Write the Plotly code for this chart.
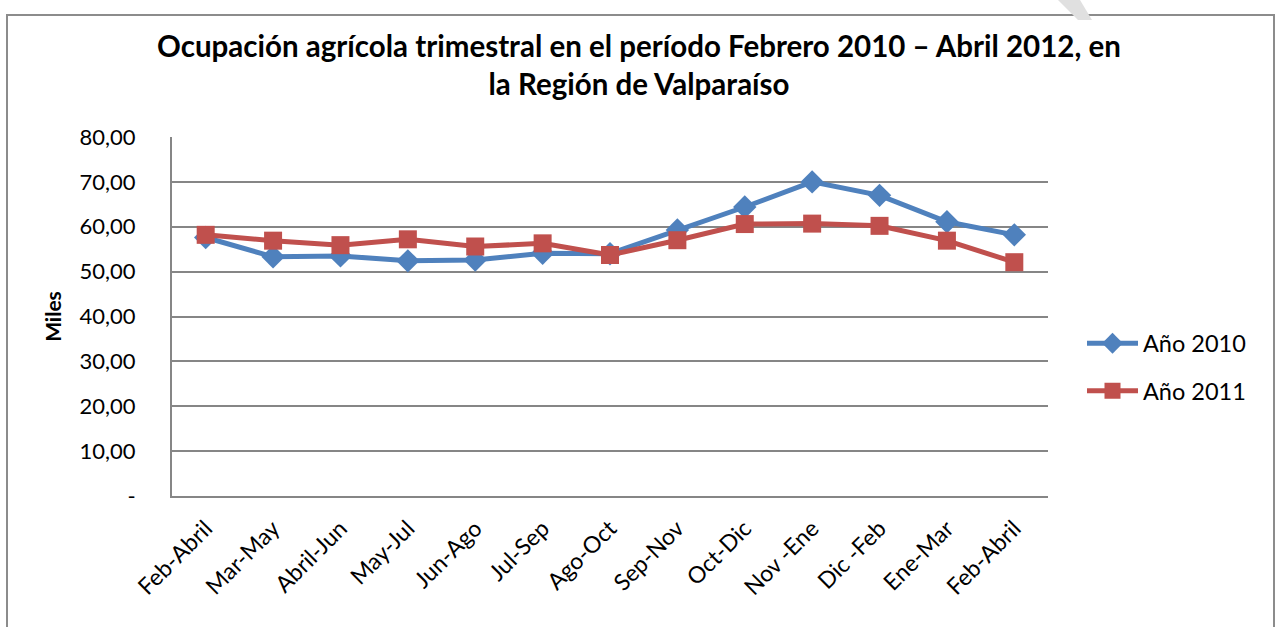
import plotly.graph_objects as go

categories = ["Feb-Abril", "Mar-May", "Abril-Jun", "May-Jul", "Jun-Ago", "Jul-Sep",
              "Ago-Oct", "Sep-Nov", "Oct-Dic", "Nov -Ene", "Dic -Feb", "Ene-Mar", "Feb-Abril"]
anio_2010 = [57.6, 53.3, 53.5, 52.4, 52.6, 54.1, 54.0, 59.3, 64.4, 70.0, 67.0, 61.1, 58.2]
anio_2011 = [58.2, 56.9, 55.9, 57.2, 55.6, 56.3, 53.7, 57.0, 60.6, 60.7, 60.2, 56.9, 52.1]
y_ticks = [0, 10, 20, 30, 40, 50, 60, 70, 80]
y_tick_labels = ["-", "10,00", "20,00", "30,00", "40,00", "50,00", "60,00", "70,00", "80,00"]

FONT = "Lato, Carlito, Calibri, sans-serif"
x_idx = list(range(len(categories)))

W, H = 1278, 627
L, R, T, B = 172, 1048, 137, 496
PW, PH = R - L, B - T


def px(x):
    return (x - L) / PW


def py(y):
    return (B - y) / PH


fig = go.Figure()
fig.add_trace(go.Scatter(
    x=x_idx, y=anio_2010, name="Año 2010", mode="lines+markers", legendgroup="a",
    line=dict(color="#4F81BD", width=5),
    marker=dict(symbol="diamond", size=18, color="#4F81BD"),
))
fig.add_trace(go.Scatter(
    x=x_idx, y=anio_2011, name="Año 2011", mode="lines+markers", legendgroup="b",
    line=dict(color="#C0504D", width=5),
    marker=dict(symbol="square", size=18, color="#C0504D"),
))

fig.update_layout(
    width=W, height=H,
    paper_bgcolor="white", plot_bgcolor="white",
    margin=dict(l=L, r=W - R, t=T, b=H - B),
    font=dict(family=FONT, size=22, color="black"),
    title=dict(
        text="<b>Ocupación agrícola trimestral en el período Febrero 2010 – Abril 2012, en<br>la Región de Valparaíso</b>",
        x=0.5, xanchor="center", xref="container",
        y=1 - 56.5 / H, yanchor="middle", yref="container",
        font=dict(family=FONT, size=29.5, color="black"),
    ),
    showlegend=True,
    legend=dict(
        x=px(1082), y=py(367.5), xanchor="left", yanchor="middle",
        font=dict(family=FONT, size=23.5, color="black"),
        itemwidth=51, tracegroupgap=14, bgcolor="rgba(0,0,0,0)",
    ),
    xaxis=dict(
        range=[-0.5, len(categories) - 0.5],
        tickmode="array", tickvals=x_idx, ticktext=categories,
        tickangle=-45, showgrid=False, zeroline=False,
        showline=True, linecolor="#868686", linewidth=2,
        tickfont=dict(family=FONT, size=23, color="black"),
        ticklabelstandoff=8,
        fixedrange=True,
    ),
    yaxis=dict(
        range=[0, 80],
        tickmode="array", tickvals=y_ticks, ticktext=y_tick_labels,
        showgrid=True, gridcolor="#868686", gridwidth=1.6, zeroline=False,
        showline=True, linecolor="#868686", linewidth=2,
        tickfont=dict(family=FONT, size=22, color="black"),
        ticks="", ticklabelstandoff=30,
        title=dict(text="<b>Miles</b>", font=dict(family=FONT, size=21, color="black"), standoff=12),
        fixedrange=True,
    ),
    shapes=[
        dict(
            type="rect", xref="paper", yref="paper",
            x0=px(7), x1=px(1274), y0=py(640), y1=py(15),
            line=dict(color="#8C8C8C", width=2), fillcolor="rgba(0,0,0,0)", layer="below",
        ),
        dict(
            type="path", xref="paper", yref="paper",
            path="M {} {} L {} {} L {} {} L {} {} Z".format(
                px(1058), py(0), px(1080), py(0), px(1092), py(20), px(1078), py(20)),
            line=dict(width=0), fillcolor="#E0E0E0", layer="below",
        ),
    ],
)

fig.write_html("out.html", config={"displayModeBar": False},
               post_script="document.body.style.margin='0';document.body.style.overflow='hidden';")
